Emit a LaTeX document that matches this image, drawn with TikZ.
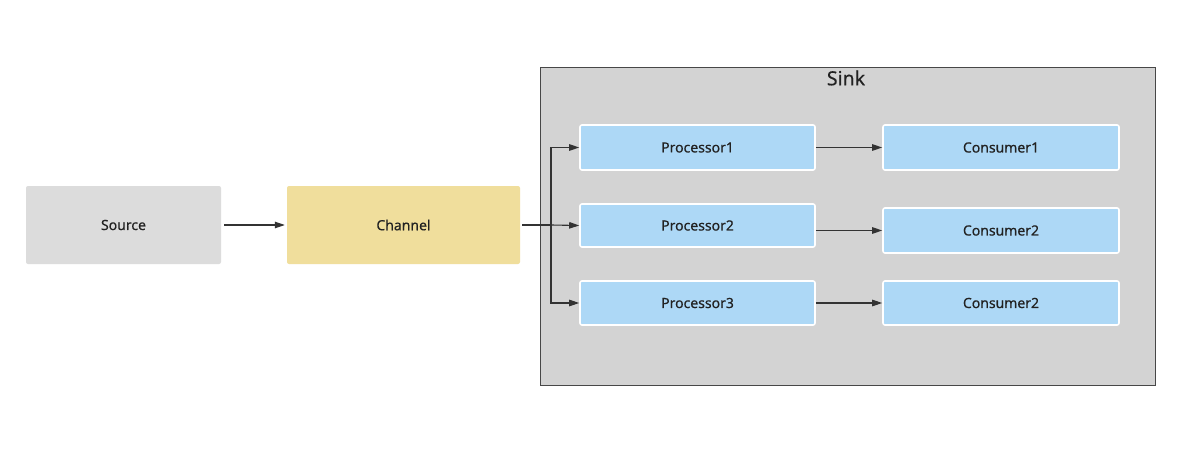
\documentclass[tikz,border=0pt]{standalone}
\usepackage{fontspec}
\setmainfont{Noto Sans}[FakeBold=0.4]
\usetikzlibrary{arrows.meta,calc}
\definecolor{srcgray}{HTML}{DCDCDC}
\definecolor{chyellow}{HTML}{F0DE9C}
\definecolor{sinkgray}{HTML}{D3D3D3}
\definecolor{pblue}{HTML}{ADD8F6}
\definecolor{linec}{HTML}{333333}
\definecolor{txtc}{HTML}{222222}
\tikzset{
  x=1pt,y=-1pt,
  box/.style={rounded corners=2pt,inner sep=0pt,font=\fontsize{14}{16}\selectfont,text=txtc},
  bluebox/.style={box,fill=pblue,draw=white,line width=1.6pt},
  conn/.style={draw=linec,line width=1.1pt,-{Triangle[length=10pt,width=6.5pt]}},
}
\begin{document}
\begin{tikzpicture}
\useasboundingbox (0,0) rectangle (1190,449);
\fill[white] (0,0) rectangle (1190,449);
% sink container
\node[draw=linec!90,fill=sinkgray,line width=0.8pt,minimum width=615pt,minimum height=318pt,inner sep=0pt,anchor=north west] (sink) at (540,67) {};
\node[font=\fontsize{19.5}{22}\selectfont,text=txtc] (sinklbl) at (846,78) {Sink};
% left nodes
\node[box,fill=srcgray,minimum width=195pt,minimum height=78pt] (src) at (123.5,225) {Source};
\node[box,fill=chyellow,minimum width=233pt,minimum height=78pt] (ch) at (403.5,225) {Channel};
% processors
\node[bluebox,minimum width=235pt,minimum height=45pt] (p1) at (697.5,147.5) {Processor1};
\node[bluebox,minimum width=235pt,minimum height=43pt] (p2) at (697.5,225.5) {Processor2};
\node[bluebox,minimum width=235pt,minimum height=44pt] (p3) at (697.5,303) {Processor3};
% consumers
\node[bluebox,minimum width=236pt,minimum height=45pt] (c1) at (1001,147.5) {Consumer1};
\node[bluebox,minimum width=236pt,minimum height=45pt] (c2) at (1001,230.5) {Consumer2};
\node[bluebox,minimum width=236pt,minimum height=44pt] (c3) at (1001,303) {Consumer2};
% connectors
\coordinate (jn) at (551,225);
\draw[conn] ([xshift=3pt]src.east) -- ([xshift=-2pt]ch.west);
\draw[draw=linec,line width=1.1pt] ([xshift=2pt]ch.east) -- (jn);
\draw[conn] (jn) -- (p2.west);
\draw[conn] (jn) |- (p1.west);
\draw[conn] (jn) |- (p3.west);
\draw[conn] (p1.east) -- (c1.west);
\draw[conn] (p2.east |- c2.west) -- (c2.west);
\draw[conn] (p3.east) -- (c3.west);
\end{tikzpicture}
\end{document}
